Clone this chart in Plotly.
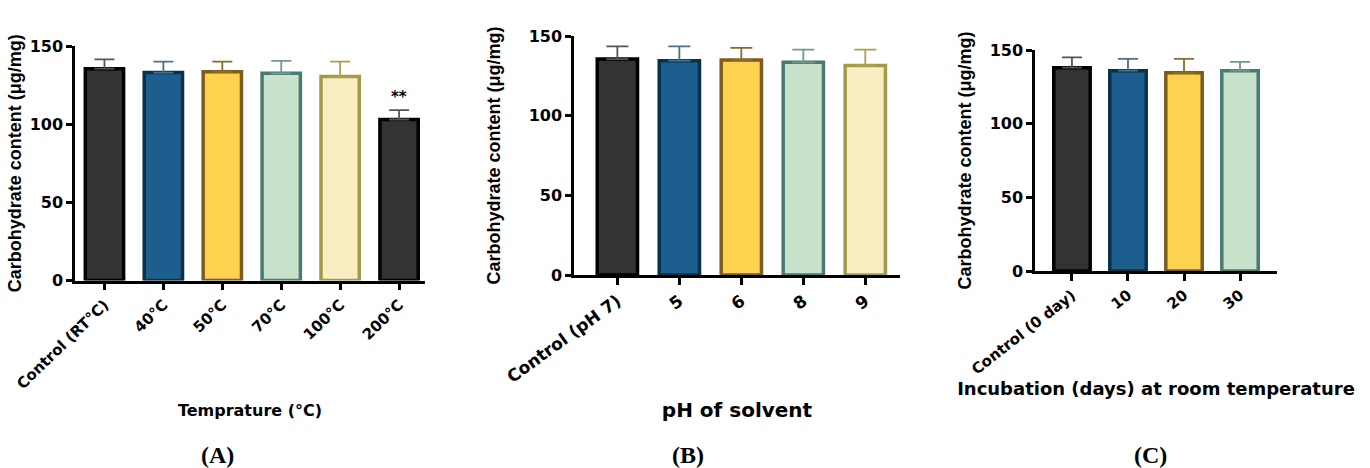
import plotly.graph_objects as go

# ---------------- data ----------------
temp_labels = ["Control (RT°C)", "40°C", "50°C", "70°C", "100°C", "200°C"]
temp_means = [135.5, 133, 133.5, 132.5, 130.5, 103]
temp_err = [6, 7, 6.5, 8, 9.5, 6]

ph_labels = ["Control (pH 7)", "5", "6", "8", "9"]
ph_means = [135.5, 134.5, 135, 133.5, 131.5]
ph_err = [8, 9, 7.5, 8, 10]

day_labels = ["Control (0 day)", "10", "20", "30"]
day_means = [138, 136, 134.5, 136]
day_err = [7, 8, 9.5, 6]

# ---------------- styles ----------------
fills = {"k": "#333333", "b": "#1c5f8f", "y": "#fdd24f", "g": "#c7e3cb", "ly": "#f8eec2"}
borders = {"k": "#000000", "b": "#0b3147", "y": "#7b5c22", "g": "#4a7a71", "ly": "#a29a4b"}
errc = {"k": "#555555", "b": "#4a7189", "y": "#8a6a30", "g": "#6f9a92", "ly": "#a9a052"}

temp_styles = ["k", "b", "y", "g", "ly", "k"]
ph_styles = ["k", "b", "y", "g", "ly"]
day_styles = ["k", "b", "y", "g"]

W, H = 1370, 468
FONT = "DejaVu Sans, Verdana, sans-serif"
FONT_Y = "Liberation Sans, Arial, sans-serif"

fig = go.Figure()


def add_panel(labels, means, errs, styles, xa, ya, capw):
    for lab, m, e, s in zip(labels, means, errs, styles):
        fig.add_trace(go.Bar(
            x=[lab], y=[m], width=0.65,
            marker=dict(color=fills[s], line=dict(color=borders[s], width=3.5)),
            error_y=dict(type="data", array=[e], arrayminus=[0], symmetric=False,
                         color=errc[s], thickness=1.8, width=capw),
            xaxis=xa, yaxis=ya, showlegend=False,
        ))


add_panel(temp_labels, temp_means, temp_err, temp_styles, "x", "y", 10)
add_panel(ph_labels, ph_means, ph_err, ph_styles, "x2", "y2", 11)
add_panel(day_labels, day_means, day_err, day_styles, "x3", "y3", 10)


def px_x(p):
    return p / W


def px_y(p):
    return 1 - p / H


def bold(size, family=FONT):
    return dict(family=family, size=size, color="black", weight="bold")


axis_common = dict(showline=True, linecolor="black", linewidth=2.5, ticks="outside",
                   tickcolor="black", tickwidth=2.5, showgrid=False, zeroline=False,
                   automargin=False)

ytitle = "Carbohydrate content (μg/mg)"
ytick = bold(16)
ytitle_font = bold(18, FONT_Y)

fig.update_layout(
    width=W, height=H, margin=dict(l=0, r=0, t=0, b=0),
    paper_bgcolor="white", plot_bgcolor="white", bargap=0.35,
    xaxis=dict(**axis_common, tickfont=bold(15), domain=[px_x(75), px_x(425)],
               anchor="y", type="category", range=[-0.5, 5.44], tickangle=-44, ticklen=7,
               title=dict(text="Temprature (°C)", font=bold(16), standoff=14)),
    yaxis=dict(**axis_common, tickfont=ytick, domain=[px_y(280.5), px_y(46)], anchor="x",
               range=[0, 150], tickvals=[0, 50, 100, 150], ticklen=6,
               title=dict(text=ytitle, font=ytitle_font, standoff=4)),
    xaxis2=dict(**axis_common, tickfont=bold(17), domain=[px_x(574), px_x(900)],
                anchor="y2", type="category", range=[-0.7, 4.56], tickangle=-36, ticklen=7,
                title=dict(text="pH of solvent", font=bold(20), standoff=18)),
    yaxis2=dict(**axis_common, tickfont=ytick, domain=[px_y(275), px_y(36)], anchor="x2",
                range=[0, 150], tickvals=[0, 50, 100, 150], ticklen=6,
                title=dict(text=ytitle, font=ytitle_font, standoff=24)),
    xaxis3=dict(**axis_common, tickfont=bold(15), domain=[px_x(1035), px_x(1277)],
                anchor="y3", type="category", range=[-0.66, 3.66], tickangle=-38, ticklen=7,
                title=dict(text="Incubation (days) at room temperature", font=bold(18), standoff=6)),
    yaxis3=dict(**axis_common, tickfont=ytick, domain=[px_y(271), px_y(50)], anchor="x3",
                range=[0, 150], tickvals=[0, 50, 100, 150], ticklen=6,
                title=dict(text=ytitle, font=ytitle_font, standoff=14)),
)

# significance marker
fig.add_annotation(x=temp_labels[5], y=temp_means[5] + temp_err[5], xref="x", yref="y",
                   text="**", showarrow=False, yanchor="bottom", yshift=2,
                   font=bold(15))

# panel letters
panel_font = dict(family="Liberation Serif, Times New Roman, serif", size=24, color="black", weight="bold")
for letter, cx in [("(A)", 217), ("(B)", 688), ("(C)", 1150)]:
    fig.add_annotation(x=px_x(cx), y=px_y(455), xref="paper", yref="paper", text=letter,
                       showarrow=False, font=panel_font, xanchor="center", yanchor="middle")

fig.write_html("out.html", config={"displayModeBar": False},
               post_script="document.body.style.margin='0';document.body.style.overflow='hidden';")
